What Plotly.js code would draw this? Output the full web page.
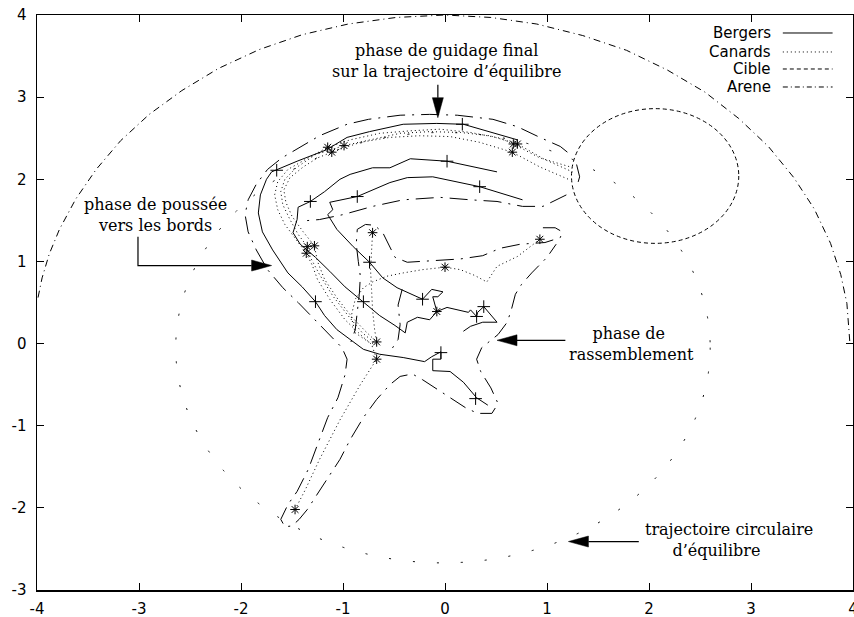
<!DOCTYPE html>
<html><head><meta charset="utf-8">
<script src="https://cdn.plot.ly/plotly-3.0.1.min.js"></script>
<style>body{margin:0;background:#fff}#chart{width:854px;height:617px}</style>
</head><body><div id="chart"></div>
<script>
// ---------- DATA ----------
// Bergers (shepherds) trajectories
const berger1X = [0.42,0.31,0.18,0.05,-0.12,-0.12,-0.04,-0.04,-0.13,-0.20,-0.41,-0.64,-0.80,-0.93,-1.06,-1.18,-1.27,-1.40,-1.54,-1.69,-1.79,-1.83,-1.81,-1.75,-1.70,-1.45,-1.16,-0.96,-0.74,-0.41,-0.08,0.18,0.44,0.71];
const berger1Y = [-0.75,-0.66,-0.47,-0.34,-0.33,-0.19,-0.19,-0.10,-0.16,-0.22,-0.17,-0.13,-0.07,0.05,0.17,0.34,0.51,0.69,0.86,1.14,1.36,1.59,1.81,2.00,2.09,2.22,2.36,2.51,2.58,2.67,2.68,2.67,2.58,2.48];
const berger2X = [0.18,0.25,0.37,0.51,0.38,0.32,0.31,0.25,0.23,0.02,-0.08,-0.10,-0.12,-0.07,-0.02,-0.13,-0.22,-0.47,-0.61,-0.74,-0.90,-1.06,-1.15,-1.10,-1.13,-0.86,-0.54,-0.37,-0.12,0.34,0.76];
const berger2Y = [0.15,0.21,0.26,0.26,0.45,0.38,0.33,0.41,0.38,0.44,0.39,0.50,0.57,0.57,0.63,0.66,0.54,0.68,0.80,0.99,1.18,1.39,1.57,1.63,1.72,1.79,1.96,2.02,2.03,1.91,1.75];
const berger3X = [-0.08,-0.15,-0.27,-0.37,-0.39,-0.49,-0.64,-0.80,-0.98,-1.13,-1.27,-1.42,-1.49,-1.45,-1.44,-1.32,-1.18,-1.03,-0.93,-0.71,-0.54,-0.34,0.02,0.51];
const berger3Y = [0.39,0.29,0.32,0.26,0.13,0.22,0.34,0.51,0.69,0.88,1.05,1.21,1.35,1.51,1.66,1.73,1.85,2.00,2.06,2.14,2.14,2.25,2.22,2.09];
const bergerMarkX = [0.17,0.02,0.34,-1.32,-0.86,-0.74,-1.27,-0.80,-0.22,0.38,0.31,-0.04,0.30,-1.65];
const bergerMarkY = [2.67,2.22,1.91,1.73,1.79,0.99,0.51,0.51,0.54,0.45,0.33,-0.11,-0.67,2.11];

// Canards (ducks) trajectories
const canard1X = [-1.47,-1.37,-1.23,-1.03,-0.83,-0.67,-0.72,-0.83,-0.98,-1.13,-1.25,-1.30,-1.36,-1.46,-1.57,-1.64,-1.67,-1.64,-1.54,-1.37,-1.15,-0.93,-0.64,-0.34,-0.05,0.25,0.54,0.67,0.93,1.23];
const canard1Y = [-2.02,-1.78,-1.41,-0.93,-0.50,-0.19,-0.01,0.11,0.29,0.54,0.78,0.95,1.10,1.27,1.45,1.63,1.81,1.97,2.12,2.24,2.39,2.48,2.56,2.59,2.61,2.57,2.50,2.43,2.26,2.15];
const canard2X = [-0.71,-0.72,-0.73,-0.72,-0.71,-0.69,-0.67,-0.78,-0.91,-1.05,-1.18,-1.25,-1.28,-1.39,-1.50,-1.56,-1.58,-1.52,-1.39,-1.25,-1.11,-0.83,-0.54,-0.25,0.05,0.34,0.66,0.93,1.21];
const canard2Y = [1.35,1.14,0.90,0.66,0.41,0.17,0.02,0.15,0.32,0.54,0.78,1.00,1.19,1.36,1.55,1.72,1.87,2.02,2.15,2.26,2.33,2.45,2.51,2.53,2.52,2.45,2.33,2.15,2.00];
const canard3X = [0.93,0.71,0.51,0.41,0.29,0.15,0.00,-0.22,-0.41,-0.57,-0.71,-0.80,-0.88,-0.92,-0.88,-0.75,-0.67,-0.81,-0.95,-1.10,-1.23,-1.32,-1.35,-1.44,-1.52,-1.59,-1.61,-1.57,-1.46,-1.27,-0.99,-0.74,-0.44,-0.15,0.15,0.44,0.71,0.98,1.25];
const canard3Y = [1.27,1.06,0.94,0.75,0.83,0.90,0.93,0.90,0.86,0.82,0.75,0.68,0.54,0.33,0.13,0.02,-0.01,0.13,0.34,0.58,0.84,1.05,1.18,1.33,1.51,1.69,1.85,2.00,2.14,2.30,2.41,2.48,2.56,2.58,2.57,2.53,2.43,2.24,2.09];
const canardMarkX = [-1.15,-1.11,-0.99,0.67,0.71,0.66,-0.71,-1.35,-1.28,-1.36,0.00,0.93,-0.08,-0.67,-0.67,-1.47];
const canardMarkY = [2.39,2.33,2.41,2.43,2.43,2.33,1.35,1.18,1.19,1.10,0.93,1.27,0.39,0.02,-0.19,-2.02];

// Envelope of the flock (long dash-dot)
const env1X = [1.20,1.13,0.93,0.71,0.47,0.12,-0.15,-0.44,-0.75,-0.96,-1.23,-1.42,-1.60,-1.74,-1.85,-1.93,-1.96,-1.93,-1.85,-1.74,-1.59,-1.44,-1.30,-1.15,-1.01,-0.96,-0.98,-1.05,-1.15,-1.25,-1.34,-1.45,-1.54,-1.61,-1.57,-1.50,-1.43,-1.35,-1.26,-1.16,-1.03,-0.93,-0.80,-0.67,-0.54,-0.44,-0.32,-0.22,-0.07,0.08,0.20,0.32,0.46,0.52,0.45,0.35,0.31,0.36,0.52,0.61,0.65,0.69,0.75,0.85,1.00,1.09];
const env1Y = [2.33,2.40,2.51,2.64,2.73,2.78,2.79,2.78,2.73,2.67,2.53,2.39,2.26,2.12,1.94,1.75,1.57,1.36,1.14,0.90,0.68,0.50,0.32,0.12,-0.05,-0.19,-0.38,-0.66,-0.90,-1.23,-1.53,-1.80,-1.96,-2.14,-2.23,-2.22,-2.14,-2.02,-1.85,-1.66,-1.41,-1.17,-0.90,-0.68,-0.50,-0.40,-0.37,-0.44,-0.56,-0.68,-0.78,-0.85,-0.85,-0.73,-0.54,-0.34,-0.19,-0.05,0.11,0.26,0.41,0.60,0.72,0.86,1.05,1.21];
const env2X = [1.19,1.09,0.96,0.76,0.51,0.25,-0.05,-0.41,-0.71,-1.00,-1.23,-1.42];
const env2Y = [1.81,1.75,1.67,1.67,1.73,1.75,1.78,1.75,1.67,1.57,1.51,1.49];
const env3X = [1.29,1.32,1.29];
const env3Y = [2.18,2.03,1.90];
const env4X = [0.96,1.08,1.15,1.13,0.98,0.74,0.54,0.37,0.15,-0.15,-0.37,-0.49,-0.54,-0.61,-0.69,-0.78,-0.86,-0.87,-0.85,-0.83,-0.84,-0.86,-0.88,-0.93];
const env4Y = [1.41,1.41,1.36,1.29,1.23,1.21,1.16,1.07,1.03,1.01,0.99,1.05,1.18,1.35,1.44,1.45,1.39,1.21,1.00,0.82,0.60,0.41,0.17,-0.01];
const env5X = [-0.42,-0.46,-0.44,-0.46,-0.54];
const env5Y = [0.66,0.47,0.23,0.05,-0.10];

// Arene (upper arc of the arena boundary)
const areneX = [-3.99,-3.95,-3.88,-3.78,-3.62,-3.42,-3.18,-2.90,-2.58,-2.22,-1.82,-1.40,-0.95,-0.48,0.00,0.45,0.90,1.35,1.78,2.18,2.55,2.88,3.17,3.42,3.62,3.78,3.88,3.94,3.97];
const areneY = [0.56,0.80,1.09,1.39,1.76,2.12,2.47,2.79,3.08,3.35,3.58,3.76,3.89,3.97,4.00,3.97,3.89,3.75,3.57,3.33,3.06,2.74,2.40,2.02,1.64,1.22,0.84,0.49,0.00];

// Circles: [centerX, centerY, radius]
const cible = [2.06, 2.04, 0.82];
const equilibre = [-0.02, -0.05, 2.62];

// Axes
const xTicks = [-4,-3,-2,-1,0,1,2,3,4];
const yTicks = [-3,-2,-1,0,1,2,3,4];
const legendLabels = ['Bergers','Canards','Cible','Arene'];

// Annotation arrows (data coords: tail ... head)
const guideArrow = [[-0.07, 3.15], [-0.07, 2.75]];
const pushArrow = [[-3.01, 1.30], [-3.01, 0.95], [-1.70, 0.95]];
const gatherArrow = [[1.18, 0.04], [0.51, 0.04]];
const circArrow = [[1.90, -2.41], [1.21, -2.41]];

// ---------- STYLES ----------
const BLACK = '#000';
const DASH = {
  bergers: 'solid',
  canards: '1px,3px',
  cible: '4px,3px',
  arene: '7px,4px,1px,4px',
  envelope: '18px,7px,2px,7px',
  equilibre: '2px,22px'
};

function lineTrace(x, y, dash) {
  return {type:'scatter', mode:'lines', x:x, y:y, hoverinfo:'skip',
          line:{color:BLACK, width:1, dash:dash}};
}

const traces = [
  lineTrace(areneX, areneY, DASH.arene),
  lineTrace(env1X, env1Y, DASH.envelope),
  lineTrace(env2X, env2Y, DASH.envelope),
  lineTrace(env3X, env3Y, DASH.envelope),
  lineTrace(env4X, env4Y, DASH.envelope),
  lineTrace(env5X, env5Y, DASH.envelope),
  lineTrace(canard1X, canard1Y, DASH.canards),
  lineTrace(canard2X, canard2Y, DASH.canards),
  lineTrace(canard3X, canard3Y, DASH.canards),
  lineTrace(berger1X, berger1Y, DASH.bergers),
  lineTrace(berger2X, berger2Y, DASH.bergers),
  lineTrace(berger3X, berger3Y, DASH.bergers),
  {type:'scatter', mode:'markers', x:bergerMarkX, y:bergerMarkY, hoverinfo:'skip',
   marker:{symbol:'cross-thin-open', size:9, color:BLACK, line:{color:BLACK, width:1}}},
  {type:'scatter', mode:'markers', x:canardMarkX, y:canardMarkY, hoverinfo:'skip',
   marker:{symbol:'asterisk-open', size:8, color:BLACK, line:{color:BLACK, width:1}}}
];

// ---------- SHAPES ----------
const ML = 37, MR = 1, MT = 15, MB = 27, W = 854, H = 617;
const kx = (W - ML - MR) / 8;   // px per x unit
const ky = (H - MT - MB) / 7;   // px per y unit

function circleShape(c, dash) {
  return {type:'circle', xref:'x', yref:'y', x0:c[0]-c[2], x1:c[0]+c[2], y0:c[1]-c[2], y1:c[1]+c[2],
          line:{color:BLACK, width:1, dash:dash}, layer:'above'};
}

const shapes = [
  circleShape(cible, DASH.cible),
  circleShape(equilibre, DASH.equilibre)
];

function addArrow(pts) {
  const n = pts.length;
  const tip = pts[n-1], prev = pts[n-2];
  const dxp = (tip[0]-prev[0])*kx, dyp = (tip[1]-prev[1])*ky;
  const len = Math.hypot(dxp, dyp);
  const ux = dxp/len, uy = dyp/len;
  const L = 20, Wd = 5.5;
  const bx = tip[0]*kx - ux*L, by = tip[1]*ky - uy*L;
  const c1 = [(bx - uy*Wd)/kx, (by + ux*Wd)/ky];
  const c2 = [(bx + uy*Wd)/kx, (by - ux*Wd)/ky];
  let d = 'M' + pts[0][0] + ',' + pts[0][1];
  for (let i = 1; i < n-1; i++) d += ' L' + pts[i][0] + ',' + pts[i][1];
  d += ' L' + (bx/kx) + ',' + (by/ky);
  shapes.push({type:'path', xref:'x', yref:'y', path:d, line:{color:BLACK, width:1.2}});
  shapes.push({type:'path', xref:'x', yref:'y',
    path:'M'+tip[0]+','+tip[1]+' L'+c1[0]+','+c1[1]+' L'+c2[0]+','+c2[1]+' Z',
    fillcolor:BLACK, line:{color:BLACK, width:0.5}});
}
[guideArrow, pushArrow, gatherArrow, circArrow].forEach(addArrow);

// legend (gnuplot style: right-aligned text, sample line on the right)
const legendDash = [DASH.bergers, DASH.canards, DASH.cible, '5px,3px,1px,3px'];
const legendRows = [0.9687, 0.9357, 0.9061, 0.8748];
const annotations = [];
legendLabels.forEach((lab, i) => {
  annotations.push({xref:'paper', yref:'paper', x:0.902, y:legendRows[i], text:lab, showarrow:false,
    xanchor:'right', yanchor:'middle', font:{family:'DejaVu Sans, Liberation Sans, sans-serif', size:15, color:BLACK}});
  shapes.push({type:'line', xref:'paper', yref:'paper', x0:0.914, x1:0.975, y0:legendRows[i], y1:legendRows[i],
    line:{color:BLACK, width:1, dash:legendDash[i]}});
});

// text annotations (two-line labels)
const SERIF = {family:'DejaVu Serif, Liberation Serif, serif', size:16, color:BLACK};
function txt(x, y, t) {
  annotations.push({xref:'x', yref:'y', x:x, y:y, text:t, showarrow:false, align:'center',
    xanchor:'center', yanchor:'middle', font:SERIF});
}
const NB = '\u00a0';
txt(0.01, 3.44, 'phase de guidage final<br>sur la trajectoire d\u2019équilibre');
txt(-2.84, 1.56, 'phase de poussée<br>vers les bords');
txt(1.83, 0.00, 'phase de' + NB + '<br>rassemblement');
txt(2.78, -2.39, 'trajectoire circulaire<br>d\u2019équilibre' + NB.repeat(5));

const axisCommon = {
  ticks:'inside', ticklen:7, tickwidth:1, tickcolor:BLACK,
  showline:true, linecolor:BLACK, linewidth:1.5, mirror:'allticks',
  showgrid:false, zeroline:false, fixedrange:true, ticklabeloverflow:'allow',
  tickfont:{family:'DejaVu Sans, Liberation Sans, sans-serif', size:15, color:BLACK}
};

const layout = {
  width:W, height:H,
  margin:{l:ML, r:MR, t:MT, b:MB, pad:0},
  paper_bgcolor:'#fff', plot_bgcolor:'#fff',
  showlegend:false,
  xaxis: Object.assign({}, axisCommon, {range:[-4,4], tickmode:'array', tickvals:xTicks, ticktext:xTicks.map(String), ticklabelstandoff:4}),
  yaxis: Object.assign({}, axisCommon, {range:[-3,4], tickmode:'array', tickvals:yTicks, ticktext:yTicks.map(String), ticklabelstandoff:6}),
  shapes:shapes,
  annotations:annotations
};

Plotly.newPlot('chart', traces, layout, {staticPlot:true, displayModeBar:false});
</script>
</body></html>
